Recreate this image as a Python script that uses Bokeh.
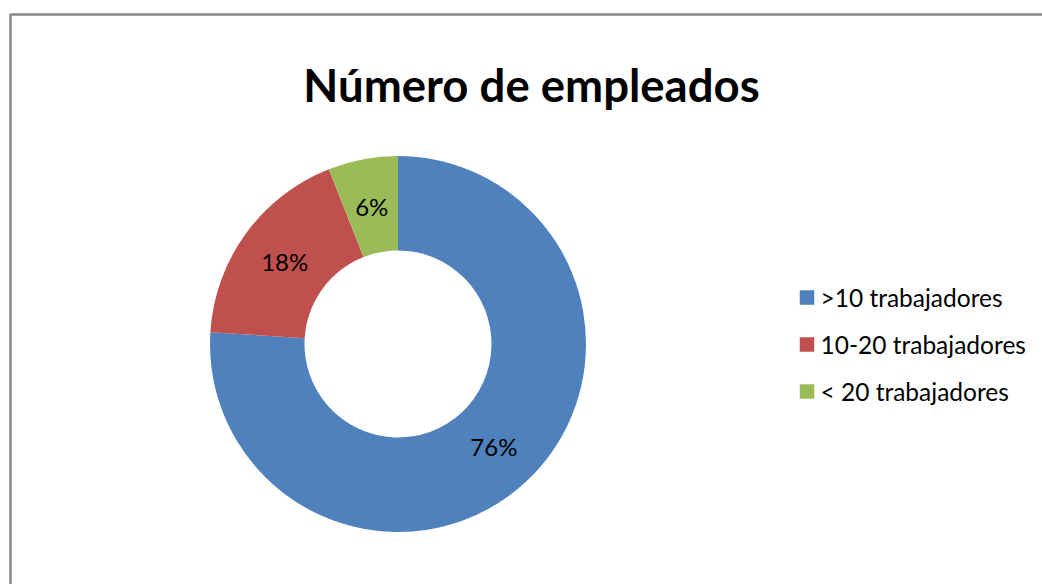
import numpy as np
from bokeh.plotting import figure
from bokeh.models import Range1d, ColumnDataSource
from bokeh.core.properties import value
from bokeh.embed import file_html
from bokeh.resources import INLINE

title = "Número de empleados"
categories = [">10 trabajadores", "10-20 trabajadores", "< 20 trabajadores"]
percent = [76, 18, 6]
colors = ["#4F81BD", "#C0504D", "#9BBB59"]

W, H = 1042, 584
FONT = "Lato"

# layout (canvas pixels, y up)
cx, cy = 397.5, 240.5
r_out, r_in = 188, 93.5
r_lab = 140

p = figure(width=W, height=H, output_backend="svg", toolbar_location=None,
           x_range=Range1d(0, W), y_range=Range1d(0, H),
           min_border=0, outline_line_color=None, background_fill_color="white",
           border_fill_color="white")
p.axis.visible = False
p.grid.visible = False

frac = np.array(percent, dtype=float) / sum(percent)
cum = np.concatenate([[0], np.cumsum(frac)])
start = np.pi / 2 - 2 * np.pi * cum[:-1]
end = np.pi / 2 - 2 * np.pi * cum[1:]
mid = np.pi / 2 - 2 * np.pi * (cum[:-1] + cum[1:]) / 2

src = ColumnDataSource(dict(start=start, end=end, color=colors,
                            lx=cx + r_lab * np.cos(mid), ly=cy + r_lab * np.sin(mid),
                            lab=[f"{v}%" for v in percent]))
p.annular_wedge(x=cx, y=cy, inner_radius=r_in, outer_radius=r_out,
                start_angle="start", end_angle="end", direction="clock",
                fill_color="color", line_color=None, source=src)
p.text(x="lx", y="ly", text="lab", source=src, text_align="center",
       text_baseline="middle", text_font=value(FONT), text_font_size="24px",
       text_color="black")

# title
p.text(x=[531], y=[500], text=[title], text_align="center", text_baseline="alphabetic",
       text_font=value(FONT), text_font_size="45.5px", text_font_style="bold",
       text_color="black")

# legend
idx = np.arange(len(categories))
lg = ColumnDataSource(dict(x=[806.5] * len(categories), y=287 - 47 * idx,
                           tx=[820] * len(categories), lab=categories, color=colors))
p.rect(x="x", y="y", width=14.5, height=14.5, fill_color="color", line_color=None, source=lg)
p.text(x="tx", y="y", text="lab", source=lg, text_baseline="middle",
       text_font=value(FONT), text_font_size="24.5px", text_color="black")

# chart-area border (left and top visible)
p.line(x=[10, 10, 1200], y=[-20, 570, 570], line_color="#878787", line_width=2.5)

open("out.html", "w").write(file_html(p, INLINE))
